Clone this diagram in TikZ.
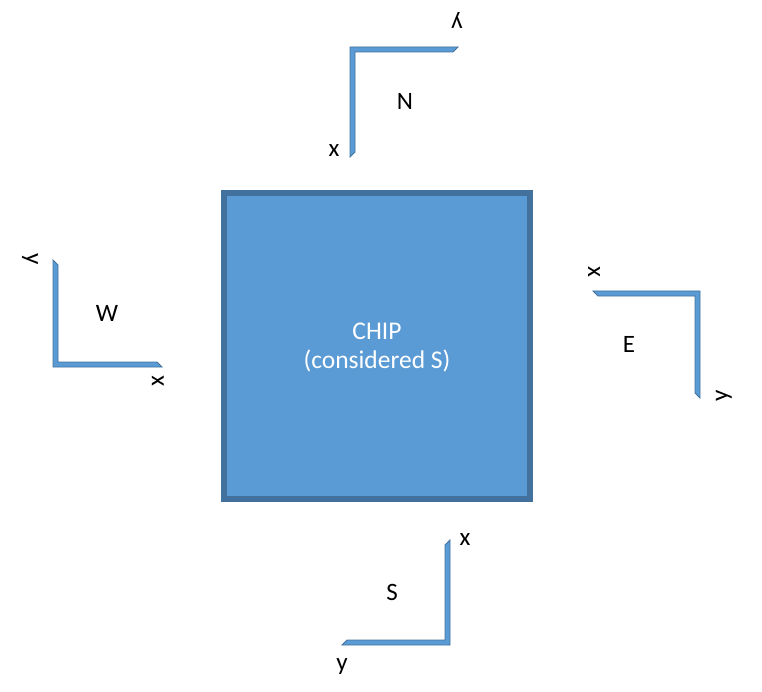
\documentclass[tikz,border=0pt]{standalone}
\usepackage{fontspec}
\setmainfont{Carlito}
\definecolor{chipfill}{HTML}{5B9BD5}
\definecolor{chipline}{HTML}{41719C}
\begin{document}
\begin{tikzpicture}[x=1pt,y=-1pt,
  frame/.style={fill=chipfill,draw=chipline,line width=0.8pt,line join=miter},
  lbl/.style={font=\fontsize{25}{30}\selectfont,inner sep=0pt,text=black},
  chiptext/.style={font=\fontsize{25.5}{29}\selectfont,text=white,align=center}]
\useasboundingbox (0,0) rectangle (762,692);
% chip
\draw[fill=chipfill,draw=chipline,line width=6pt] (224,193) rectangle (530,499);
\node[chiptext] (chip) at (377,347) {CHIP\\(considered S)};
% N frame
\draw[frame] (350,47) -- (458,47) -- (453,52) -- (355,52) -- (355,152) -- (350,157) -- cycle;
\node[lbl,rotate=180] (ny) at (457,20) {y};
\node[lbl] (nlab) at (405,101) {N};
\node[lbl] (nx) at (334,151) {x};
% W frame
\draw[frame] (53,367) -- (53,260) -- (58,265) -- (58,362) -- (157,362) -- (162,367) -- cycle;
\node[lbl,rotate=270] (wy) at (30,259) {y};
\node[lbl] (wlab) at (107,313) {W};
\node[lbl,rotate=90] (wx) at (158,381) {x};
% E frame
\draw[frame] (700,291) -- (593,291) -- (598,296) -- (695,296) -- (695,393) -- (700,398) -- cycle;
\node[lbl,rotate=270] (ex) at (594,272) {x};
\node[lbl] (elab) at (629,344) {E};
\node[lbl,rotate=90] (ey) at (724,396) {y};
% S frame
\draw[frame] (450,645) -- (450,540) -- (445,545) -- (445,640) -- (347,640) -- (342,645) -- cycle;
\node[lbl] (sx) at (465,540) {x};
\node[lbl] (slab) at (392,592) {S};
\node[lbl] (sy) at (342,667) {y};
\end{tikzpicture}
\end{document}
